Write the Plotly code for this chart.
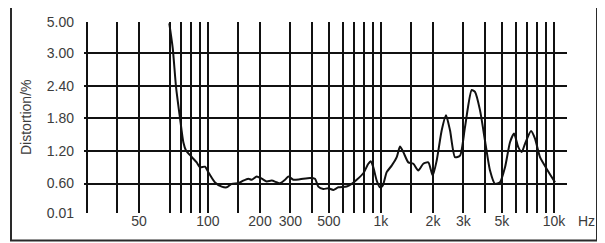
import numpy as np
import plotly.graph_objects as go

# ---- data ----
freq_hz = [59.8, 62.6, 65.4, 69.0, 72.1, 74.7, 80.6, 86.1, 90.0, 96.2, 100.5, 109.9, 120.1, 128.4,
           137.2, 149.8, 160.1, 171.1, 179.1, 191.4, 204.6, 218.7, 233.6, 249.8, 261.0, 279.0,
           291.6, 311.7, 340.6, 389.1, 415.9, 434.6, 464.4, 496.4, 530.6, 567.2, 634.2, 677.8,
           724.5, 791.0, 845.5, 872.9, 903.6, 945.5, 987.8, 1024, 1080, 1154, 1234, 1289, 1347,
           1440, 1539, 1644, 1757, 1879, 1992, 2101, 2246, 2378, 2508, 2682, 2866, 3062, 3348,
           3498, 3738, 3996, 4272, 4566, 4880, 5216, 5574, 5878, 6224, 6512, 6805, 7373, 7775,
           8310, 9084, 10146]
distortion_pct = [4.92, 3.32, 2.38, 1.80, 1.36, 1.21, 1.09, 0.99, 0.90, 0.91, 0.81, 0.62, 0.54, 0.525,
                  0.594, 0.605, 0.655, 0.69, 0.67, 0.73, 0.69, 0.64, 0.655, 0.624, 0.605, 0.67,
                  0.73, 0.67, 0.68, 0.705, 0.69, 0.54, 0.493, 0.505, 0.473, 0.525, 0.54, 0.594,
                  0.67, 0.79, 0.965, 1.01, 0.90, 0.655, 0.525, 0.56, 0.81, 0.93, 1.085, 1.28, 1.18,
                  0.99, 0.965, 0.84, 0.965, 0.99, 0.75, 1.025, 1.58, 1.855, 1.58, 1.085, 1.115, 1.64, 2.32,
                  2.285, 1.95, 1.39, 0.84, 0.594, 0.625, 0.90, 1.36, 1.52, 1.27, 1.18, 1.33, 1.565, 1.425,
                  1.085, 0.87, 0.625]

y_tick_labels = ["0.01", "0.60", "1.20", "1.80", "2.40", "3.00", "5.00"]
y_tick_values = [0.01, 0.60, 1.20, 1.80, 2.40, 3.00, 5.00]
y_tick_pos = [0.1, 1, 2, 3, 4, 5, 5.95]

x_grid_hz = [20, 30, 40, 60, 70, 80, 90, 100, 150, 200, 300, 400, 500, 600, 700, 800, 900,
             1000, 1500, 2000, 3000, 4000, 5000, 6000, 7000, 8000, 9000, 10000]
x_label_map = {40: "50", 100: "100", 200: "200", 300: "300", 500: "500",
               1000: "1k", 2000: "2k", 3000: "3k", 5000: "5k", 10000: "10k"}
x_tick_text = [x_label_map.get(v, "") for v in x_grid_hz]

# map distortion to the chart's (non-linear) vertical scale
y_plot = np.interp(distortion_pct, y_tick_values, y_tick_pos)

FONT = "Liberation Sans, Arial, sans-serif"
TXT = "#3c3c3c"
GRID = "#111111"

# page body has an 8px margin -> figure drawn 8px in from the window edges
W, H = 597, 235
PX_DEC = 173.0           # pixels per decade
PAD = 3                  # px of plot area left of the first grid line
L, T, PW, PH = 79 - PAD, 14, 480 + PAD, 191
R, B = W - L - PW, H - T - PH

x0 = np.log10(x_grid_hz[0]) - PAD / PX_DEC
xr = [x0, x0 + PW / PX_DEC]
yr = [0.099, 5.951]

fig = go.Figure()
# first grid line (plotly drops grid lines next to the plot edge)
fig.add_trace(go.Scatter(x=[x_grid_hz[0], x_grid_hz[0]], y=yr, mode="lines",
                         line=dict(color=GRID, width=2), showlegend=False,
                         hoverinfo="skip", cliponaxis=False))
fig.add_trace(go.Scatter(x=freq_hz, y=y_plot, mode="lines",
                         line=dict(color="#111111", width=2, shape="spline", smoothing=0.6),
                         showlegend=False, hoverinfo="skip", cliponaxis=False))
# dummy trace for the grid-only y axis
fig.add_trace(go.Scatter(x=[100], y=[1], yaxis="y2", mode="markers",
                         marker=dict(opacity=0), showlegend=False, hoverinfo="skip"))

def px(xref_px):  # reference-window x pixel -> paper x
    return (xref_px - 8 - L) / PW

def py(yref_px):  # reference-window y pixel -> paper y
    return (T + PH - (yref_px - 8)) / PH

fig.update_layout(
    width=W, height=H,
    margin=dict(l=L, r=R, t=T, b=B, autoexpand=False),
    paper_bgcolor="white", plot_bgcolor="white",
    font=dict(family=FONT, size=14, color=TXT),
    xaxis=dict(type="log", range=xr, tickmode="array", tickvals=x_grid_hz, ticktext=x_tick_text,
               showgrid=True, gridcolor=GRID, gridwidth=2, zeroline=False, showline=False,
               automargin=False,
               ticks="", ticklabelstandoff=-2, tickfont=dict(family=FONT, size=14, color=TXT)),
    yaxis=dict(range=yr, tickmode="array", tickvals=y_tick_pos, ticktext=y_tick_labels,
               showgrid=False, zeroline=False, showline=False, ticks="", automargin=False,
               ticklabelstandoff=12 - PAD, tickfont=dict(family=FONT, size=14, color=TXT)),
    yaxis2=dict(range=yr, overlaying="y", tickmode="array", tickvals=y_tick_pos[1:-1],
                showgrid=True, gridcolor=GRID, gridwidth=2, showticklabels=False,
                zeroline=False, showline=False, ticks="", automargin=False),
    annotations=[
        dict(text="Distortion/%", textangle=-90, xref="paper", yref="paper",
             x=px(26), y=py(118), showarrow=False, xanchor="center", yanchor="middle",
             font=dict(family=FONT, size=14, color=TXT)),
        dict(text="Hz", xref="paper", yref="paper", x=px(586), y=py(221),
             showarrow=False, xanchor="center", yanchor="middle",
             font=dict(family=FONT, size=14, color=TXT)),
    ],
    shapes=[
        dict(type="rect", xref="paper", yref="paper",
             x0=px(11), x1=px(597), y0=py(240.5), y1=py(3.5),
             line=dict(color="#2a2a2a", width=2), layer="below"),
    ],
)
fig.write_html("out.html")
